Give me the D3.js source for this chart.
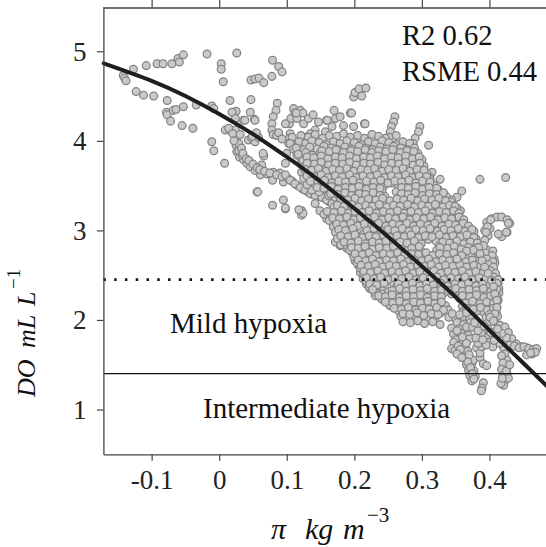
<!DOCTYPE html>
<html>
<head>
<meta charset="utf-8">
<script src="https://cdn.jsdelivr.net/npm/d3@7"></script>
<style>
  html, body { margin: 0; padding: 0; background: #fff; }
  svg { display: block; font-family: "Liberation Serif", "Times New Roman", serif; }
</style>
</head>
<body>
<svg id="chart" width="546" height="547"></svg>
<script>
// axis ticks
const xTicks = [-0.1, 0, 0.1, 0.2, 0.3, 0.4];
const yTicks = [1, 2, 3, 4, 5];

// fitted curve
const fitX = [-0.171, -0.10, -0.05, 0, 0.05, 0.10, 0.15, 0.20, 0.25, 0.30, 0.35, 0.40, 0.45, 0.50];
const fitY = [4.865, 4.67, 4.50, 4.30, 4.075, 3.82, 3.545, 3.245, 2.93, 2.60, 2.255, 1.885, 1.52, 1.15];

// hypoxia thresholds
const mildLimit = 2.45;
const intermediateLimit = 1.4;

const statLines = ["R2 0.62", "RSME 0.44"];
const zoneLabels = ["Mild hypoxia", "Intermediate hypoxia"];

// observations [pi, DO]
const leftCloud = [
  [-0.142,4.73],[-0.140,4.70],[-0.138,4.67],[-0.127,4.80],[-0.108,4.84],[-0.092,4.86],[-0.083,4.86],
  [-0.070,4.86],[-0.061,4.92],[-0.059,4.88],[-0.053,4.96],[-0.018,4.97],[0.026,4.98],[0.003,4.86],
  [0.003,4.80],[0.006,4.66],[0.047,4.68],[0.053,4.69],[0.059,4.70],[0.066,4.65],[0.079,4.90],
  [0.088,4.83],[0.093,4.77],[0.078,4.72],[-0.123,4.55],[-0.112,4.51],[-0.097,4.50],[-0.077,4.45],
  [-0.078,4.32],[-0.077,4.29],[-0.072,4.22],[-0.068,4.34],[-0.064,4.35],[-0.053,4.38],[-0.055,4.17],
  [-0.039,4.14],[-0.034,4.40],[-0.011,4.39],[-0.008,4.36],[0.016,4.45],[0.025,4.33],[0.036,4.23],
  [0.047,4.46],[0.046,4.32],[0.052,4.24],[0.086,4.42],[0.084,4.34],[0.080,4.27],[0.078,4.19],
  [0.078,4.12],[0.080,4.07],[0.085,4.06],[-0.011,3.99],[-0.008,3.89],[0.008,3.75],[0.009,4.12],
  [0.015,4.13],[0.024,4.12],[0.026,4.04],[0.025,3.95],[0.026,3.88],[0.030,3.82],[0.036,3.79],
  [0.041,3.75],[0.046,3.71],[0.053,3.67],[0.063,3.73],[0.066,3.83],[0.061,3.62],[0.071,3.63],
  [0.080,3.65],[0.090,3.64],[0.098,3.75],[0.100,3.86],[0.056,3.43],[0.079,3.56],[0.095,3.54],
  [0.103,3.97],[0.105,4.08],[0.104,4.19],[0.079,3.28],[0.019,4.32],[0.024,4.25],[0.038,4.23],
  [0.053,4.23],[0.014,4.14],[0.029,3.97],[0.029,3.89],[0.034,3.84],[0.043,4.01],[0.048,4.03],
  [0.053,3.99],[0.058,4.04],[0.088,4.09],[0.093,4.02],[0.104,4.03],[0.106,3.98],[0.049,4.05],
  [0.055,4.09],[0.065,3.86],[0.106,4.25],[0.098,4.19]
];

const strand = [
  [0.020,4.08],[0.022,4.00],[0.031,4.07],[0.033,3.92],[0.035,3.86],[0.040,3.80],[0.044,3.78],
  [0.050,3.74],[0.056,3.70],[0.060,3.68],[0.067,3.66],[0.075,3.64],[0.085,3.62],[0.093,3.60],
  [0.102,3.58],[0.108,3.55],[0.116,3.50],[0.124,3.46],[0.131,3.43],[0.139,3.40],[0.146,3.38],
  [0.155,3.36],[0.163,3.32],[0.172,3.29],[0.181,3.27],[0.190,3.25],[0.098,3.62],[0.105,3.56],
  [0.112,3.52],[0.120,3.48],[0.127,3.45],[0.135,3.41],[0.142,3.39],[0.152,3.37],[0.159,3.34],
  [0.167,3.30],[0.176,3.28],[0.186,3.26],[0.095,3.34],[0.098,3.24],[0.122,3.22],[0.122,3.17],
  [0.057,3.43],[0.098,3.25],[0.124,3.19],[0.118,3.23],
  [0.108,4.04],[0.105,3.97],[0.110,3.91],[0.115,3.84],[0.122,3.78],[0.132,3.73],[0.142,3.69],
  [0.152,3.65],[0.157,3.63],
  [0.137,3.45],[0.142,3.30],[0.149,3.22],[0.159,3.13],[0.169,3.04],[0.172,2.87],[0.179,2.83],
  [0.186,2.91],[0.189,2.80],[0.196,2.76],[0.201,2.66],[0.206,2.61],[0.209,2.53],[0.213,2.46],
  [0.218,2.40],[0.228,2.57],[0.236,2.55],[0.223,2.35],[0.231,2.27],[0.241,2.33],[0.243,2.22],
  [0.253,2.16],[0.263,2.14],[0.273,2.18],[0.275,2.27]
];

const upperSpikes = [
  [0.110,4.36],[0.112,4.31],[0.115,4.25],[0.120,4.34],[0.125,4.19],[0.132,4.25],[0.139,4.29],
  [0.147,4.21],[0.159,4.23],[0.172,4.25],[0.179,4.27],[0.194,4.31],[0.184,4.17],[0.167,4.16],
  [0.157,4.10],[0.142,4.12],[0.135,4.08],[0.127,4.04],[0.124,4.31],[0.114,4.31],[0.170,4.34],
  [0.160,4.23],[0.215,4.19],
  [0.260,4.27],[0.258,4.21],[0.255,4.16],[0.253,4.10],[0.252,4.04],[0.216,4.19],[0.297,4.16],
  [0.295,4.10],[0.290,4.03],[0.287,3.97],[0.310,3.95],[0.386,3.57],[0.424,3.59],[0.327,3.57],
  [0.315,3.65],[0.305,3.65],[0.312,3.59],[0.359,3.44],[0.352,3.37],[0.344,3.34],[0.339,3.26],
  [0.357,3.22],[0.324,3.35],[0.315,3.30],[0.300,3.26],[0.295,3.76],[0.292,3.71],[0.283,3.80],
  [0.273,3.93],[0.243,3.95],[0.228,3.93],[0.218,3.97],[0.199,4.16],[0.196,4.31],[0.199,4.49],
  [0.201,4.54],[0.207,4.58],[0.217,4.59],[0.211,4.50]
];

const core = [
  [0.121,4.06],[0.132,4.04],[0.142,4.07],[0.153,4.03],[0.163,4.06],[0.174,4.05],[0.184,4.08],[0.194,4.04],[0.205,4.06],[0.215,4.03],[0.226,4.07],[0.236,4.05],[0.246,4.03],[0.262,4.06],
  [0.118,3.99],[0.128,3.97],[0.137,4.00],[0.148,3.98],[0.158,3.96],[0.169,3.99],[0.179,3.97],[0.189,4.00],[0.200,3.98],[0.210,3.96],[0.221,3.99],[0.231,3.97],[0.241,4.00],[0.251,3.98],[0.262,3.96],[0.272,3.99],[0.282,3.97],
  [0.114,3.92],[0.125,3.90],[0.134,3.93],[0.145,3.91],[0.155,3.94],[0.166,3.92],[0.176,3.90],[0.186,3.93],[0.196,3.91],[0.207,3.94],[0.217,3.92],[0.227,3.90],[0.238,3.93],[0.248,3.91],[0.258,3.94],[0.269,3.92],[0.279,3.90],[0.289,3.92],
  [0.117,3.85],[0.128,3.87],[0.138,3.84],[0.149,3.86],[0.159,3.83],[0.170,3.86],[0.180,3.84],[0.190,3.87],[0.201,3.85],[0.211,3.83],[0.222,3.86],[0.232,3.84],[0.242,3.87],[0.253,3.85],[0.263,3.83],[0.273,3.86],[0.284,3.84],[0.294,3.86],
  [0.124,3.78],[0.134,3.80],[0.145,3.77],[0.155,3.79],[0.166,3.76],[0.176,3.79],[0.186,3.77],[0.197,3.80],[0.207,3.78],[0.217,3.76],[0.228,3.79],[0.238,3.77],[0.249,3.80],[0.259,3.78],[0.269,3.76],[0.280,3.79],[0.290,3.77],[0.300,3.79],
  [0.126,3.71],[0.137,3.73],[0.147,3.70],[0.158,3.72],[0.168,3.69],[0.178,3.72],[0.189,3.70],[0.199,3.73],[0.209,3.71],[0.220,3.69],[0.230,3.72],[0.241,3.70],[0.251,3.73],[0.261,3.71],[0.272,3.69],[0.282,3.72],[0.292,3.70],[0.303,3.72],
  [0.122,3.65],[0.131,3.63],[0.141,3.66],[0.152,3.64],[0.162,3.62],[0.173,3.65],[0.183,3.63],[0.193,3.66],[0.204,3.64],[0.214,3.62],[0.224,3.65],[0.235,3.63],[0.245,3.66],[0.256,3.64],[0.266,3.62],[0.276,3.65],[0.287,3.63],[0.297,3.66],[0.307,3.64],
  [0.125,3.58],[0.136,3.56],[0.146,3.59],[0.156,3.57],[0.167,3.60],[0.177,3.58],[0.187,3.56],[0.198,3.59],[0.208,3.57],[0.219,3.60],[0.229,3.58],[0.239,3.56],[0.250,3.59],[0.260,3.57],[0.270,3.60],[0.281,3.58],[0.291,3.56],[0.301,3.59],[0.312,3.57],
  [0.130,3.51],[0.140,3.53],[0.151,3.50],[0.161,3.52],[0.172,3.49],[0.182,3.52],[0.192,3.50],[0.203,3.53],[0.213,3.51],[0.223,3.49],[0.234,3.52],[0.244,3.50],[0.255,3.53],[0.265,3.51],[0.275,3.49],[0.286,3.52],[0.296,3.50],[0.306,3.53],[0.317,3.51],
  [0.148,3.43],[0.158,3.46],[0.168,3.44],[0.179,3.42],[0.189,3.45],[0.200,3.43],[0.210,3.46],[0.220,3.44],[0.231,3.42],[0.241,3.45],[0.262,3.43],[0.272,3.46],[0.283,3.44],[0.293,3.42],[0.303,3.45],[0.314,3.43],[0.324,3.46],
  [0.162,3.39],[0.172,3.37],[0.183,3.35],[0.193,3.38],[0.203,3.36],[0.214,3.39],[0.224,3.37],[0.234,3.35],[0.245,3.38],[0.266,3.37],[0.276,3.35],[0.286,3.38],[0.297,3.36],[0.307,3.39],[0.318,3.37],[0.328,3.35],[0.336,3.38],
  [0.186,3.33],[0.197,3.31],[0.207,3.29],[0.218,3.32],[0.228,3.30],[0.238,3.33],[0.249,3.31],[0.259,3.29],[0.269,3.32],[0.280,3.30],[0.290,3.33],[0.301,3.31],[0.311,3.29],[0.321,3.32],[0.332,3.30],[0.342,3.32],
  [0.170,3.26],[0.180,3.24],[0.190,3.22],[0.201,3.25],[0.211,3.23],[0.222,3.26],[0.232,3.24],[0.242,3.22],[0.253,3.25],[0.263,3.23],[0.273,3.26],[0.284,3.24],[0.294,3.22],[0.305,3.25],[0.315,3.23],[0.325,3.26],[0.336,3.24],[0.346,3.22],[0.352,3.25],
  [0.155,3.18],[0.165,3.16],[0.176,3.19],[0.186,3.17],[0.196,3.15],[0.207,3.18],[0.217,3.16],[0.228,3.19],[0.238,3.17],[0.248,3.15],[0.259,3.18],[0.269,3.16],[0.279,3.19],[0.290,3.17],[0.300,3.15],[0.311,3.18],[0.321,3.16],[0.331,3.19],[0.342,3.17],[0.352,3.15],
  [0.163,3.11],[0.173,3.09],[0.184,3.12],[0.194,3.10],[0.204,3.08],[0.215,3.11],[0.225,3.09],[0.235,3.12],[0.246,3.10],[0.256,3.08],[0.267,3.11],[0.277,3.09],[0.287,3.12],[0.298,3.10],[0.308,3.08],[0.318,3.11],[0.329,3.09],[0.339,3.12],[0.350,3.10],[0.360,3.08],
  [0.169,3.04],[0.179,3.02],[0.190,3.05],[0.200,3.03],[0.210,3.01],[0.221,3.04],[0.231,3.02],[0.242,3.05],[0.252,3.03],[0.262,3.01],[0.273,3.04],[0.283,3.02],[0.293,3.05],[0.304,3.03],[0.314,3.01],[0.325,3.04],[0.335,3.02],[0.345,3.05],[0.356,3.03],[0.366,3.01],
  [0.172,2.98],[0.182,2.96],[0.193,2.99],[0.214,2.96],[0.224,2.99],[0.235,2.97],[0.245,2.95],[0.255,2.98],[0.266,2.96],[0.276,2.99],[0.286,2.97],[0.297,2.95],[0.307,2.98],[0.318,2.96],[0.328,2.99],[0.338,2.97],[0.349,2.95],[0.359,2.98],[0.370,2.96],[0.377,2.99],
  [0.175,2.91],[0.186,2.89],[0.196,2.92],[0.206,2.90],[0.217,2.88],[0.227,2.91],[0.238,2.89],[0.248,2.92],[0.258,2.90],[0.269,2.88],[0.279,2.91],[0.289,2.89],[0.300,2.92],[0.310,2.90],[0.321,2.88],[0.331,2.91],[0.341,2.89],[0.352,2.92],[0.362,2.90],[0.372,2.88],[0.380,2.91],
  [0.180,2.84],[0.190,2.82],[0.201,2.85],[0.211,2.83],[0.221,2.81],[0.232,2.84],[0.242,2.82],[0.253,2.85],[0.263,2.83],[0.273,2.81],[0.284,2.84],[0.294,2.82],[0.326,2.83],[0.336,2.81],[0.347,2.84],[0.357,2.82],[0.367,2.85],[0.378,2.83],[0.386,2.81],
  [0.193,2.78],[0.203,2.76],[0.214,2.79],[0.224,2.77],[0.234,2.75],[0.245,2.78],[0.255,2.76],[0.280,2.79],[0.290,2.77],[0.301,2.75],[0.322,2.78],[0.333,2.76],[0.343,2.79],[0.353,2.77],[0.364,2.75],[0.374,2.78],[0.385,2.76],[0.395,2.79],[0.405,2.77],
  [0.199,2.71],[0.209,2.69],[0.220,2.72],[0.230,2.70],[0.240,2.68],[0.251,2.71],[0.261,2.69],[0.271,2.72],[0.282,2.70],[0.292,2.68],[0.303,2.71],[0.313,2.69],[0.323,2.72],[0.334,2.70],[0.344,2.68],[0.368,2.71],[0.379,2.69],[0.389,2.72],[0.399,2.70],[0.407,2.68],
  [0.204,2.64],[0.214,2.62],[0.225,2.65],[0.235,2.63],[0.245,2.61],[0.256,2.64],[0.266,2.62],[0.277,2.65],[0.287,2.63],[0.297,2.61],[0.308,2.64],[0.318,2.62],[0.328,2.65],[0.339,2.63],[0.349,2.61],[0.360,2.64],[0.370,2.62],[0.380,2.65],[0.391,2.63],[0.401,2.61],[0.408,2.64],
  [0.209,2.58],[0.219,2.56],[0.229,2.59],[0.240,2.57],[0.250,2.55],[0.260,2.58],[0.271,2.56],[0.281,2.59],[0.292,2.57],[0.302,2.55],[0.312,2.58],[0.323,2.56],[0.333,2.59],[0.343,2.57],[0.354,2.55],[0.364,2.58],[0.375,2.56],[0.385,2.59],[0.395,2.57],[0.406,2.55],
  [0.214,2.51],[0.224,2.49],[0.235,2.52],[0.245,2.50],[0.256,2.48],[0.266,2.51],[0.276,2.49],[0.287,2.52],[0.297,2.50],[0.307,2.48],[0.318,2.51],[0.328,2.49],[0.339,2.52],[0.349,2.50],[0.359,2.48],[0.370,2.51],[0.380,2.49],[0.390,2.52],[0.401,2.50],[0.410,2.48],
  [0.217,2.44],[0.227,2.42],[0.238,2.45],[0.248,2.43],[0.258,2.41],[0.269,2.44],[0.279,2.42],[0.290,2.45],[0.300,2.43],[0.310,2.41],[0.321,2.44],[0.331,2.42],[0.341,2.45],[0.352,2.43],[0.362,2.41],[0.373,2.44],[0.383,2.42],[0.393,2.45],[0.404,2.43],[0.413,2.41],
  [0.222,2.37],[0.232,2.35],[0.262,2.36],[0.272,2.38],[0.283,2.36],[0.293,2.34],[0.303,2.37],[0.314,2.35],[0.324,2.38],[0.335,2.36],[0.345,2.34],[0.355,2.37],[0.366,2.35],[0.376,2.38],[0.386,2.36],[0.397,2.34],[0.407,2.37],[0.414,2.35],
  [0.230,2.31],[0.241,2.29],[0.251,2.32],[0.261,2.30],[0.272,2.28],[0.282,2.31],[0.292,2.29],[0.303,2.32],[0.313,2.30],[0.324,2.28],[0.334,2.31],[0.344,2.29],[0.355,2.32],[0.365,2.30],[0.375,2.28],[0.386,2.31],[0.396,2.29],[0.407,2.32],[0.414,2.30],
  [0.240,2.24],[0.250,2.22],[0.261,2.25],[0.271,2.23],[0.281,2.21],[0.292,2.24],[0.302,2.22],[0.313,2.25],[0.323,2.23],[0.356,2.24],[0.366,2.22],[0.377,2.25],[0.387,2.23],[0.397,2.21],[0.408,2.24],[0.413,2.22],
  [0.252,2.17],[0.263,2.15],[0.273,2.18],[0.283,2.16],[0.294,2.14],[0.304,2.17],[0.315,2.15],[0.325,2.18],[0.335,2.16],[0.360,2.15],[0.370,2.17],[0.380,2.15],[0.391,2.18],[0.401,2.16],[0.411,2.14],
  [0.266,2.10],[0.277,2.08],[0.287,2.11],[0.297,2.09],[0.308,2.07],[0.318,2.10],[0.328,2.08],[0.339,2.11],[0.361,2.09],[0.371,2.07],[0.382,2.10],[0.392,2.08],[0.402,2.11],[0.410,2.09],
  [0.269,2.04],[0.279,2.02],[0.290,2.05],[0.300,2.03],[0.310,2.01],[0.321,2.04],[0.340,2.03],[0.350,2.01],[0.361,2.04],[0.371,2.02],[0.395,2.03],[0.405,2.01],[0.412,2.04],
  [0.272,1.98],[0.283,1.97],[0.294,1.99],[0.304,1.96],[0.316,1.98],[0.327,1.95],[0.352,1.97],[0.362,1.95],[0.372,1.97],[0.397,1.96],[0.408,1.98]
];

// second, offset layer of the dense cloud
const coreInner = [
  [0.152,3.89],[0.163,3.88],[0.173,3.90],[0.184,3.87],[0.195,3.89],[0.205,3.88],[0.216,3.90],[0.226,3.87],[0.236,3.89],[0.247,3.88],[0.257,3.90],[0.268,3.87],[0.278,3.89],[0.288,3.88],
  [0.130,3.82],[0.140,3.81],[0.151,3.83],[0.161,3.80],[0.172,3.82],[0.182,3.81],[0.193,3.83],[0.203,3.80],[0.214,3.82],[0.224,3.81],[0.234,3.83],[0.245,3.80],[0.255,3.82],[0.265,3.81],[0.276,3.83],[0.286,3.80],[0.296,3.82],
  [0.130,3.75],[0.141,3.74],[0.151,3.76],[0.162,3.73],[0.172,3.75],[0.183,3.74],[0.193,3.76],[0.203,3.73],[0.214,3.75],[0.224,3.74],[0.235,3.76],[0.245,3.73],[0.255,3.75],[0.266,3.74],[0.276,3.76],[0.287,3.73],[0.297,3.75],
  [0.127,3.68],[0.137,3.67],[0.147,3.69],[0.158,3.66],[0.168,3.68],[0.178,3.67],[0.189,3.69],[0.199,3.66],[0.210,3.68],[0.220,3.67],[0.230,3.69],[0.241,3.66],[0.251,3.68],[0.262,3.67],[0.272,3.69],[0.282,3.66],[0.293,3.68],[0.303,3.67],
  [0.130,3.61],[0.141,3.60],[0.151,3.62],[0.161,3.59],[0.172,3.61],[0.182,3.60],[0.193,3.62],[0.203,3.59],[0.213,3.61],[0.224,3.60],[0.234,3.62],[0.245,3.59],[0.255,3.61],[0.265,3.60],[0.276,3.62],[0.286,3.59],[0.296,3.61],[0.307,3.60],
  [0.135,3.55],[0.146,3.54],[0.156,3.56],[0.167,3.53],[0.177,3.55],[0.187,3.54],[0.198,3.56],[0.208,3.53],[0.218,3.55],[0.229,3.54],[0.239,3.56],[0.250,3.53],[0.260,3.55],[0.270,3.54],[0.281,3.56],[0.291,3.53],[0.301,3.55],[0.312,3.54],
  [0.145,3.48],[0.155,3.47],[0.166,3.49],[0.176,3.46],[0.187,3.48],[0.197,3.47],[0.207,3.49],[0.218,3.46],[0.228,3.48],[0.238,3.47],[0.270,3.48],[0.280,3.47],[0.291,3.49],[0.301,3.46],[0.311,3.48],[0.322,3.47],
  [0.165,3.41],[0.176,3.40],[0.186,3.42],[0.196,3.39],[0.207,3.41],[0.217,3.40],[0.228,3.42],[0.238,3.39],[0.270,3.41],[0.280,3.40],[0.290,3.42],[0.301,3.39],[0.311,3.41],[0.322,3.40],[0.332,3.42],
  [0.180,3.35],[0.190,3.34],[0.201,3.36],[0.211,3.33],[0.221,3.35],[0.232,3.34],[0.242,3.36],[0.253,3.33],[0.263,3.35],[0.273,3.34],[0.284,3.36],[0.294,3.33],[0.304,3.35],[0.315,3.34],[0.325,3.36],[0.335,3.33],
  [0.175,3.28],[0.185,3.27],[0.196,3.29],[0.206,3.26],[0.217,3.28],[0.227,3.27],[0.237,3.29],[0.248,3.26],[0.258,3.28],[0.268,3.27],[0.279,3.29],[0.289,3.26],[0.300,3.28],[0.310,3.27],[0.320,3.29],[0.331,3.26],[0.341,3.28],[0.349,3.27],
  [0.160,3.21],[0.170,3.20],[0.181,3.22],[0.191,3.19],[0.201,3.21],[0.212,3.20],[0.222,3.22],[0.233,3.19],[0.243,3.21],[0.253,3.20],[0.264,3.22],[0.274,3.19],[0.284,3.21],[0.295,3.20],[0.305,3.22],[0.316,3.19],[0.326,3.21],[0.336,3.20],[0.347,3.22],[0.355,3.19],
  [0.168,3.14],[0.178,3.13],[0.189,3.15],[0.199,3.12],[0.209,3.14],[0.220,3.13],[0.230,3.15],[0.241,3.12],[0.251,3.14],[0.261,3.13],[0.272,3.15],[0.282,3.12],[0.292,3.14],[0.303,3.13],[0.313,3.15],[0.324,3.12],[0.334,3.14],[0.344,3.13],[0.355,3.15],[0.362,3.12],
  [0.174,3.07],[0.184,3.06],[0.195,3.08],[0.205,3.05],[0.215,3.07],[0.226,3.06],[0.236,3.08],[0.247,3.05],[0.257,3.07],[0.267,3.06],[0.278,3.08],[0.288,3.05],[0.298,3.07],[0.309,3.06],[0.319,3.08],[0.330,3.05],[0.340,3.07],[0.350,3.06],[0.361,3.08],[0.369,3.05],
  [0.177,3.01],[0.187,3.00],[0.198,3.02],[0.219,3.00],[0.229,3.02],[0.240,2.99],[0.250,3.01],[0.260,3.00],[0.271,3.02],[0.281,2.99],[0.291,3.01],[0.302,3.00],[0.312,3.02],[0.323,2.99],[0.333,3.01],[0.343,3.00],[0.354,3.02],[0.364,2.99],[0.374,3.01],
  [0.180,2.94],[0.191,2.93],[0.201,2.95],[0.212,2.92],[0.222,2.94],[0.232,2.93],[0.243,2.95],[0.253,2.92],[0.263,2.94],[0.274,2.93],[0.284,2.95],[0.295,2.92],[0.305,2.94],[0.315,2.93],[0.326,2.95],[0.336,2.92],[0.346,2.94],[0.357,2.93],[0.367,2.95],[0.377,2.92],
  [0.185,2.87],[0.195,2.86],[0.206,2.88],[0.216,2.85],[0.227,2.87],[0.237,2.86],[0.247,2.88],[0.258,2.85],[0.268,2.87],[0.278,2.86],[0.289,2.88],[0.299,2.85],[0.331,2.87],[0.341,2.86],[0.352,2.88],[0.362,2.85],[0.372,2.87],[0.382,2.86],
  [0.196,2.81],[0.206,2.80],[0.216,2.82],[0.227,2.79],[0.237,2.81],[0.248,2.80],[0.258,2.82],[0.285,2.80],[0.296,2.82],[0.327,2.81],[0.338,2.80],[0.348,2.82],[0.358,2.79],[0.369,2.81],[0.379,2.80],[0.390,2.82],
  [0.201,2.74],[0.212,2.73],[0.222,2.75],[0.232,2.72],[0.243,2.74],[0.253,2.73],[0.264,2.75],[0.274,2.72],[0.285,2.74],[0.295,2.73],[0.306,2.75],[0.316,2.72],[0.326,2.74],[0.337,2.73],[0.347,2.75],[0.373,2.74],[0.384,2.73],[0.394,2.75],[0.404,2.72],
  [0.206,2.67],[0.217,2.66],[0.227,2.68],[0.237,2.65],[0.248,2.67],[0.258,2.66],[0.269,2.68],[0.279,2.65],[0.289,2.67],[0.300,2.66],[0.310,2.68],[0.321,2.65],[0.331,2.67],[0.341,2.66],[0.352,2.68],[0.365,2.65],[0.375,2.67],[0.386,2.66],[0.396,2.68],[0.405,2.65],
  [0.210,2.61],[0.221,2.60],[0.231,2.62],[0.242,2.59],[0.252,2.61],[0.262,2.60],[0.273,2.62],[0.283,2.59],[0.294,2.61],[0.304,2.60],[0.314,2.62],[0.325,2.59],[0.335,2.61],[0.346,2.60],[0.356,2.62],[0.366,2.59],[0.377,2.61],[0.387,2.60],[0.398,2.62],[0.406,2.59],
  [0.214,2.54],[0.224,2.53],[0.235,2.55],[0.245,2.52],[0.256,2.54],[0.266,2.53],[0.276,2.55],[0.287,2.52],[0.297,2.54],[0.308,2.53],[0.318,2.55],[0.328,2.52],[0.339,2.54],[0.349,2.53],[0.360,2.55],[0.370,2.52],[0.380,2.54],[0.391,2.53],[0.401,2.55],[0.409,2.52],
  [0.218,2.47],[0.229,2.46],[0.239,2.48],[0.250,2.45],[0.260,2.47],[0.270,2.46],[0.281,2.48],[0.291,2.45],[0.302,2.47],[0.312,2.46],[0.322,2.48],[0.333,2.45],[0.343,2.47],[0.354,2.46],[0.364,2.48],[0.374,2.45],[0.385,2.47],[0.395,2.46],[0.406,2.48],[0.413,2.45],
  [0.223,2.40],[0.233,2.39],[0.244,2.41],[0.265,2.40],[0.276,2.39],[0.286,2.41],[0.297,2.38],[0.307,2.40],[0.317,2.39],[0.328,2.41],[0.338,2.38],[0.349,2.40],[0.359,2.39],[0.369,2.41],[0.380,2.38],[0.390,2.40],[0.401,2.39],[0.411,2.41],
  [0.227,2.34],[0.256,2.33],[0.267,2.35],[0.277,2.32],[0.287,2.34],[0.298,2.33],[0.308,2.35],[0.319,2.32],[0.329,2.34],[0.339,2.33],[0.350,2.35],[0.360,2.32],[0.370,2.34],[0.381,2.33],[0.391,2.35],[0.402,2.32],[0.411,2.34],
  [0.236,2.27],[0.246,2.26],[0.256,2.28],[0.267,2.25],[0.277,2.27],[0.288,2.26],[0.298,2.28],[0.308,2.25],[0.319,2.27],[0.329,2.26],[0.360,2.27],[0.371,2.26],[0.381,2.28],[0.392,2.25],[0.402,2.27],[0.411,2.26],
  [0.246,2.20],[0.257,2.19],[0.267,2.21],[0.277,2.18],[0.288,2.20],[0.298,2.19],[0.309,2.21],[0.319,2.18],[0.329,2.20],[0.365,2.19],[0.375,2.21],[0.386,2.18],[0.396,2.20],[0.406,2.19],
  [0.259,2.13],[0.270,2.12],[0.280,2.14],[0.291,2.11],[0.301,2.13],[0.311,2.12],[0.322,2.14],[0.332,2.11],[0.366,2.13],[0.376,2.12],[0.387,2.14],[0.397,2.11],[0.406,2.13],
  [0.272,2.07],[0.282,2.06],[0.293,2.08],[0.303,2.05],[0.314,2.07],[0.324,2.06],[0.345,2.07],[0.356,2.06],[0.366,2.08],[0.400,2.06]
];

const loop = [
  [0.396,3.09],[0.403,3.13],[0.411,3.15],[0.418,3.15],[0.426,3.12],[0.430,3.08],[0.426,2.98],
  [0.418,2.93],[0.413,2.96],[0.401,3.02],[0.393,3.00],[0.398,2.94],[0.393,2.89],[0.391,2.83],
  [0.384,2.81],[0.376,2.78],[0.366,2.77],[0.359,2.72],[0.352,2.68],[0.397,3.04],[0.395,2.98],
  [0.402,3.12],[0.425,2.98],[0.428,3.08]
];

const lowerLobes = [
  [0.344,1.91],[0.355,1.90],[0.366,1.92],[0.347,1.84],[0.358,1.85],[0.369,1.83],[0.350,1.78],
  [0.361,1.77],[0.371,1.79],[0.347,1.75],[0.344,1.68],[0.349,1.66],[0.354,1.71],[0.364,1.70],
  [0.361,1.62],[0.368,1.65],[0.364,1.57],[0.371,1.58],[0.366,1.50],[0.374,1.51],[0.369,1.44],
  [0.377,1.43],[0.371,1.38],[0.379,1.37],[0.374,1.32],[0.376,1.55],
  [0.352,1.88],[0.360,1.81],[0.366,1.74],[0.357,1.67],[0.370,1.61],[0.368,1.53],[0.372,1.47],
  [0.375,1.40],[0.377,1.34],[0.352,1.62],[0.359,1.58],
  [0.391,1.30],[0.389,1.24],[0.388,1.21],
  [0.381,1.69],[0.386,1.58],[0.391,1.51],[0.396,1.49],[0.386,1.63],[0.389,1.70],[0.383,1.74],
  [0.386,2.74],[0.389,2.66],[0.393,2.59],[0.398,2.52],[0.403,2.44],[0.406,2.37],[0.408,2.29],
  [0.411,2.22],[0.411,2.14],[0.408,2.07],[0.401,2.03],[0.406,1.99],[0.416,1.94],[0.423,1.92],
  [0.428,1.86],[0.433,1.79],[0.440,1.73],[0.448,1.70],[0.455,1.69],[0.460,1.66],[0.463,1.62],
  [0.455,1.61],[0.421,1.69],[0.423,1.62],[0.426,1.55],[0.426,1.47],[0.426,1.40],[0.423,1.32],
  [0.421,1.27],[0.430,1.72],[0.437,1.71],[0.444,1.69],[0.451,1.70],[0.458,1.68],[0.465,1.67],
  [0.470,1.68],[0.468,1.64],[0.461,1.63],[0.418,1.60],[0.420,1.52],[0.418,1.45],[0.420,1.38],
  [0.428,1.35],[0.417,1.29],[0.419,1.35],[0.425,1.43],[0.430,1.50],[0.415,1.74],[0.425,1.80],
  [0.418,1.85],[0.395,1.80],[0.400,1.75],[0.405,1.70],[0.388,1.85],[0.398,1.90],[0.410,1.82],
  [0.385,1.95],[0.375,1.92],[0.380,1.80],
  [0.392,1.93],[0.402,1.86],[0.395,1.72],[0.390,1.78],[0.407,1.77],[0.412,1.90],[0.383,1.88],
  [0.378,1.97]
];

const observations = [].concat(leftCloud, strand, upperSpikes, core, coreInner, loop, lowerLobes);

// layout
const svg = d3.select("#chart");
const plot = { left: 103.4, top: 6.5, bottom: 454.3, right: 557 };

const x = d3.scaleLinear().domain([-0.1714, 0.5]).range([plot.left, plot.right]);
const y = d3.scaleLinear().domain([0.5, 5.5]).range([plot.bottom, plot.top]);

// points
svg.append("g")
  .selectAll("circle")
  .data(observations)
  .enter()
  .append("circle")
  .attr("cx", (d) => x(d[0]))
  .attr("cy", (d) => y(d[1]))
  .attr("r", 3.9)
  .attr("fill", "#c9c9c9")
  .attr("stroke", "#838383")
  .attr("stroke-width", 1.25);

// thresholds
svg.append("line")
  .attr("x1", plot.left).attr("x2", 546)
  .attr("y1", y(mildLimit)).attr("y2", y(mildLimit))
  .attr("stroke", "#111")
  .attr("stroke-width", 2.6)
  .attr("stroke-dasharray", "2.5 8.27");

svg.append("line")
  .attr("x1", plot.left).attr("x2", 546)
  .attr("y1", y(intermediateLimit)).attr("y2", y(intermediateLimit))
  .attr("stroke", "#111")
  .attr("stroke-width", 1.2);

// fit
const fit = fitX.map((v, i) => [v, fitY[i]]);
svg.append("path")
  .datum(fit)
  .attr("fill", "none")
  .attr("stroke", "#1e1e1e")
  .attr("stroke-width", 4)
  .attr("stroke-linecap", "round")
  .attr("d", d3.line().x((d) => x(d[0])).y((d) => y(d[1])).curve(d3.curveNatural));

// axes
const axisColor = "#444";
const tickSize = 6.5;

const bottomAxis = svg.append("g").attr("transform", `translate(0,${plot.bottom})`)
  .call(d3.axisBottom(x).tickValues(xTicks).tickSize(tickSize).tickSizeOuter(0).tickFormat((d) => String(d)));
const topAxis = svg.append("g").attr("transform", `translate(0,${plot.top + 1})`)
  .call(d3.axisTop(x).tickValues(xTicks).tickSize(tickSize + 2).tickSizeOuter(0).tickFormat(""));
const leftAxis = svg.append("g").attr("transform", `translate(${plot.left},0)`)
  .call(d3.axisLeft(y).tickValues(yTicks).tickSize(tickSize).tickSizeOuter(0).tickFormat((d) => String(d)));

[bottomAxis, topAxis, leftAxis].forEach((g) => {
  g.select(".domain").attr("stroke", axisColor).attr("stroke-width", 1.3);
  g.selectAll(".tick line").attr("stroke", axisColor).attr("stroke-width", 1.2);
  g.selectAll("text")
    .attr("fill", "#222")
    .style("font-family", "'Liberation Serif', 'Times New Roman', serif")
    .style("font-size", "27px");
});
bottomAxis.selectAll("text").attr("y", 16).attr("dy", "0.71em");
leftAxis.selectAll("text").attr("x", -17).attr("dy", "0.33em");

// axis titles
const titleStyle = (sel, size, italic) => sel
  .attr("fill", "#111")
  .style("font-size", size + "px")
  .style("font-style", italic ? "italic" : "normal");

const xTitle = svg.append("g");
xTitle.append("text").attr("x", 271).attr("y", 539).call(titleStyle, 30, true).text("π");
xTitle.append("text").attr("x", 305).attr("y", 539).call(titleStyle, 30, true).text("kg");
xTitle.append("text").attr("x", 343).attr("y", 539).call(titleStyle, 30, true).text("m");
xTitle.append("text").attr("x", 367).attr("y", 522).call(titleStyle, 21, false).text("−3");

const yTitle = svg.append("g").attr("transform", "translate(35,0) rotate(-90)");
yTitle.append("text").attr("x", -397).attr("y", 0).call(titleStyle, 26, true).text("DO");
yTitle.append("text").attr("x", -348).attr("y", 0).call(titleStyle, 26, true).text("mL");
yTitle.append("text").attr("x", -306).attr("y", 0).call(titleStyle, 26, true).text("L");
yTitle.append("text").attr("x", -289).attr("y", -15).call(titleStyle, 19, false).text("−1");

// fit statistics
svg.selectAll("text.stat")
  .data(statLines)
  .enter()
  .append("text")
  .attr("class", "stat")
  .attr("x", 402)
  .attr("y", (d, i) => 45 + i * 35.5)
  .attr("fill", "#111")
  .style("font-size", "28.6px")
  .text((d) => d);

// zones
svg.append("text")
  .attr("x", 170).attr("y", 333)
  .attr("fill", "#111")
  .style("font-size", "29px")
  .text(zoneLabels[0]);

svg.append("text")
  .attr("x", 203).attr("y", 417.5)
  .attr("fill", "#111")
  .style("font-size", "29px")
  .text(zoneLabels[1]);
</script>
</body>
</html>
